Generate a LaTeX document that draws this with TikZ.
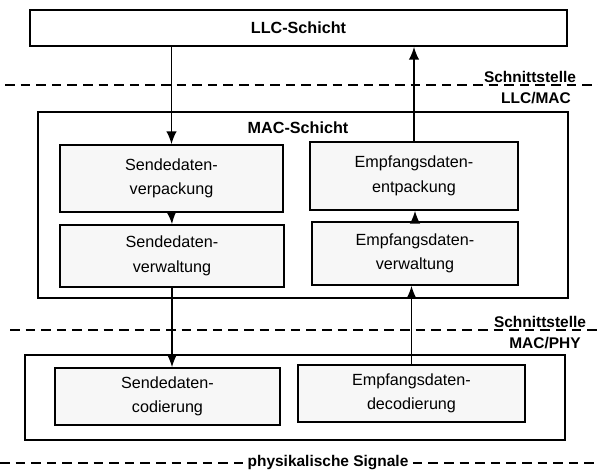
\documentclass[tikz,border=0pt]{standalone}
\usepackage{fontspec}
\setmainfont{Liberation Sans}
\usetikzlibrary{shapes.geometric, arrows.meta}
\usetikzlibrary{positioning}

\begin{document}
\begin{tikzpicture}[
x=0.25mm, y=-0.25mm,
layernode/.style={rectangle, draw=black, line width=1.1pt, inner sep=0pt},
funcnode/.style={rectangle, draw=black, line width=1.1pt, fill=black!3, align=center, font=\fontsize{11.5}{17.5}\selectfont},
titlenode/.style={font=\bfseries\fontsize{11.5}{13}\selectfont},
ifacenode/.style={font=\bfseries\fontsize{11}{12}\selectfont, inner sep=1pt},
ifaceline/.style={line width=1pt, dash pattern=on 2.4mm off 1.5mm},
flow/.style={line width=1.2pt, -{Latex[length=3.2mm,width=2.6mm]}},
]
\useasboundingbox (0,0) rectangle (598,475);

%Schichten
\node[layernode, minimum width=134.25mm, minimum height=9mm] (llc_node) at (298.5,28) {};
\node[titlenode] at (llc_node.center) {LLC-Schicht};
\node[layernode, minimum width=132.5mm, minimum height=46.5mm] (mac_node) at (303,205) {};
\node[titlenode] (mac_title) at (298,128) {MAC-Schicht};
\node[layernode, minimum width=135mm, minimum height=21.25mm] (phy_node) at (295,397.5) {};

%Funktionsbloecke
\node[funcnode, minimum width=55.75mm, minimum height=16.75mm] (send_verpackung) at (171.5,178.5) {Sendedaten-\\verpackung};
\node[funcnode, minimum width=52mm, minimum height=17mm] (empf_entpackung) at (414,176) {Empfangsdaten-\\entpackung};
\node[funcnode, minimum width=56mm, minimum height=15.5mm] (send_verwaltung) at (172,256) {Sendedaten-\\verwaltung};
\node[funcnode, minimum width=51.5mm, minimum height=15.75mm] (empf_verwaltung) at (415,253.5) {Empfangsdaten-\\verwaltung};
\node[funcnode, minimum width=56.25mm, minimum height=14.25mm] (send_codierung) at (167.5,396.5) {Sendedaten-\\codierung};
\node[funcnode, minimum width=56.75mm, minimum height=14.25mm] (empf_decodierung) at (411.5,393.5) {Empfangsdaten-\\decodierung};

%Schnittstellen
\coordinate (llcmac_left) at (5,85);
\coordinate (llcmac_right) at (598,85);
\draw[ifaceline] (llcmac_left) -- (llcmac_right);
\node[ifacenode, anchor=south] (llcmac_top) at (530,84) {Schnittstelle};
\node[ifacenode] (llcmac_bottom) at (536,98) {LLC/MAC};

\coordinate (macphy_left) at (10,330);
\coordinate (macphy_right) at (598,330);
\draw[ifaceline] (macphy_left) -- (macphy_right);
\node[ifacenode, anchor=south] (macphy_top) at (540,329) {Schnittstelle};
\node[ifacenode] (macphy_bottom) at (545,343) {MAC/PHY};

\node[ifacenode, inner sep=3pt] (signal_node) at (328,463) {physikalische Signale};
\coordinate (signal_left) at (0,463);
\coordinate (signal_right) at (598,463);
\draw[ifaceline] (signal_left) -- (signal_node.west);
\draw[ifaceline] (signal_node.east) -- (signal_right);

%Pfeile
\draw[flow] (send_verpackung.north |- llc_node.south) -- (send_verpackung.north);
\draw[flow] (send_verpackung.south) -- (send_verwaltung.north);
\draw[flow] (send_verwaltung.south) -- (send_verwaltung.south |- send_codierung.north);
\draw[flow] (empf_decodierung.north) -- (empf_decodierung.north |- empf_verwaltung.south);
\draw[flow] (empf_verwaltung.north) -- (empf_verwaltung.north |- empf_entpackung.south);
\draw[flow] (empf_entpackung.north) -- (empf_entpackung.north |- llc_node.south);

\end{tikzpicture}
\end{document}
